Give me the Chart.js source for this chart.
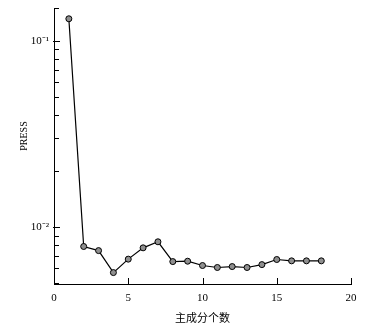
<!DOCTYPE html>
<html>
<head>
<meta charset="utf-8">
<script src="https://cdn.jsdelivr.net/npm/chart.js@4"></script>
<style>
html,body{margin:0;padding:0;background:#fff;}
#c{display:block;}
</style>
</head>
<body>
<canvas id="c" width="381" height="329"></canvas>
<script>
const components = [1,2,3,4,5,6,7,8,9,10,11,12,13,14,15,16,17,18];
const pressValues = [0.1313,0.00787,0.00748,0.0057,0.00673,0.00774,0.00834,0.00653,0.00656,0.00622,0.00607,0.00614,0.00607,0.00629,0.00670,0.00659,0.00659,0.00659];
const xTicks = [0,5,10,15,20];
const yTicks = [0.005,0.006,0.007,0.008,0.009,0.01,0.02,0.03,0.04,0.05,0.06,0.07,0.08,0.09,0.1,0.15];
const yTickLabels = {"0.1":"10\u207B\u00B9","0.01":"10\u207B\u00B2"};
const xTitle = "主成分个数";
const yTitle = "PRESS";

const serif = '"Liberation Serif","Noto Sans CJK SC",serif';
const data = components.map((x,i)=>({x:x,y:pressValues[i]}));

// draws tick marks pointing into the plot area, and the rotated y title
const inwardTicks = {
  id: 'inwardTicks',
  afterDraw(chart) {
    const ctx = chart.ctx;
    const xs = chart.scales.x, ys = chart.scales.y;
    const area = chart.chartArea;
    ctx.save();
    ctx.strokeStyle = '#000';
    ctx.lineWidth = 1;
    ctx.beginPath();
    xs.ticks.forEach(t => {
      const px = Math.round(xs.getPixelForValue(t.value)) + 0.5;
      ctx.moveTo(px, area.bottom);
      ctx.lineTo(px, area.bottom - 6);
    });
    ys.ticks.forEach(t => {
      const py = Math.round(ys.getPixelForValue(t.value)) + 0.5;
      const major = yTickLabels[String(t.value)] !== undefined;
      ctx.moveTo(area.left - (major ? 1 : 0), py);
      ctx.lineTo(area.left + (major ? 6 : 5), py);
    });
    ctx.stroke();
    // y title
    ctx.fillStyle = '#000';
    ctx.font = '10px ' + serif;
    ctx.textAlign = 'center';
    ctx.textBaseline = 'middle';
    ctx.translate(area.left - 30, (area.top + area.bottom) / 2 - 10);
    ctx.rotate(-Math.PI / 2);
    ctx.fillText(yTitle, 0, 0);
    ctx.restore();
  }
};

new Chart(document.getElementById('c'), {
  type: 'line',
  data: {
    datasets: [{
      data: data,
      borderColor: '#000',
      borderWidth: 1.2,
      pointRadius: 3,
      pointBackgroundColor: '#8f8f8f',
      pointBorderColor: '#000',
      pointBorderWidth: 1,
      tension: 0,
      fill: false
    }]
  },
  plugins: [inwardTicks],
  options: {
    responsive: false,
    animation: false,
    layout: {padding: {top: 8, right: 30, left: 0, bottom: 0}},
    plugins: {legend: {display: false}, tooltip: {enabled: false}},
    scales: {
      x: {
        type: 'linear',
        min: 0, max: 20,
        afterBuildTicks: s => { s.ticks = xTicks.map(v=>({value:v})); },
        afterFit: s => { s.height = 45; s.paddingLeft = 0; s.paddingRight = 0; },
        grid: {drawOnChartArea: false, drawTicks: false, tickLength: 0, color: '#000'},
        border: {display: true, color: '#000', width: 1},
        ticks: {color: '#000', padding: 8, font: {family: serif, size: 11}, maxRotation: 0},
        title: {display: true, text: xTitle, color: '#000', font: {family: serif, size: 11}, padding: {top: 0, bottom: 3}}
      },
      y: {
        type: 'logarithmic',
        min: 0.00495, max: 0.15,
        afterBuildTicks: s => { s.ticks = yTicks.map(v=>({value:v})); },
        afterFit: s => { s.width = 54; s.paddingTop = 0; s.paddingBottom = 0; },
        grid: {drawOnChartArea: false, drawTicks: false, tickLength: 0, color: '#000'},
        border: {display: true, color: '#000', width: 1},
        ticks: {
          color: '#000', padding: 5, autoSkip: false,
          font: {family: serif, size: 11},
          callback: v => yTickLabels[String(v)] || ''
        },
        title: {display: false}
      }
    }
  }
});
</script>
</body>
</html>
